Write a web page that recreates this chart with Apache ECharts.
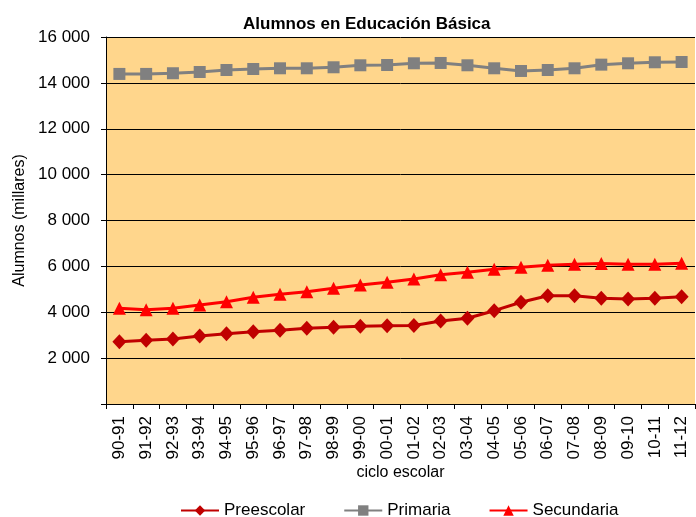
<!DOCTYPE html>
<html>
<head>
<meta charset="utf-8">
<script src="https://cdn.jsdelivr.net/npm/echarts@6/dist/echarts.min.js"></script>
<style>
  html, body { margin: 0; padding: 0; background: #fff; }
  #chart { width: 696px; height: 517px; }
</style>
</head>
<body>
<div id="chart"></div>
<script>
const ciclos = ["90-91", "91-92", "92-93", "93-94", "94-95", "95-96", "96-97", "97-98", "98-99", "99-00", "00-01",
  "01-02", "02-03", "03-04", "04-05", "05-06", "06-07", "07-08", "08-09", "09-10", "10-11", "11-12"];
const preescolar = [2716, 2777, 2834, 2965, 3065, 3152, 3213, 3300, 3344, 3395, 3410,
  3420, 3619, 3736, 4068, 4434, 4722, 4722, 4608, 4578, 4608, 4680];
const primaria = [14390, 14390, 14420, 14475, 14562, 14606, 14636, 14636, 14680, 14767, 14780,
  14854, 14868, 14767, 14636, 14519, 14562, 14636, 14795, 14854, 14898, 14911];
const secundaria = [4172, 4113, 4172, 4316, 4461, 4652, 4783, 4897, 5044, 5188, 5306,
  5450, 5638, 5740, 5873, 5960, 6047, 6091, 6120, 6091, 6091, 6134];

const chart = echarts.init(document.getElementById("chart"));
const font = "Liberation Sans, Arial, sans-serif";

const option = {
  animation: false,
  textStyle: { fontFamily: font },
  title: {
    text: "Alumnos en Educación Básica",
    left: 238,
    top: 11,
    textStyle: { fontFamily: font, fontSize: 17, fontWeight: "bold", color: "#000" }
  },
  grid: {
    left: 106,
    right: 1,
    top: 37,
    bottom: 113,
    show: true,
    backgroundColor: "#FFD68C",
    borderWidth: 0
  },
  legend: {
    top: 497,
    left: 175,
    itemGap: 38,
    itemWidth: 38,
    itemHeight: 13,
    textStyle: { fontFamily: font, fontSize: 17, color: "#000" },
    data: ["Preescolar", "Primaria", "Secundaria"]
  },
  xAxis: {
    type: "category",
    data: ciclos,
    boundaryGap: true,
    name: "ciclo escolar",
    nameLocation: "middle",
    nameGap: 61,
    nameMoveOverlap: false,
    nameTextStyle: { fontFamily: font, fontSize: 16, color: "#000", verticalAlign: "top" },
    axisLine: { lineStyle: { color: "#000", width: 1 } },
    axisTick: { show: true, length: 5, lineStyle: { color: "#000" } },
    axisLabel: { rotate: 90, fontSize: 17, color: "#000", interval: 0, margin: 12, fontFamily: font }
  },
  yAxis: {
    type: "value",
    min: 0,
    max: 16000,
    interval: 2000,
    name: "Alumnos (millares)",
    nameLocation: "middle",
    nameGap: 78,
    nameMoveOverlap: false,
    nameTextStyle: { fontFamily: font, fontSize: 16, color: "#000" },
    axisLine: { show: true, lineStyle: { color: "#000", width: 1 } },
    axisTick: { show: true, length: 5, lineStyle: { color: "#000" } },
    axisLabel: {
      fontSize: 17,
      color: "#000",
      margin: 16,
      fontFamily: font,
      formatter: function (v) {
        if (v === 0) return "";
        return String(v).replace(/\B(?=(\d{3})+(?!\d))/g, " ");
      }
    },
    splitLine: { lineStyle: { color: "#000", width: 1 } }
  },
  series: [
    {
      name: "Preescolar",
      type: "line",
      data: preescolar,
      symbol: "diamond",
      symbolSize: [14, 15],
      color: "#C00000",
      lineStyle: { color: "#C00000", width: 3 },
      itemStyle: { color: "#C00000" }
    },
    {
      name: "Primaria",
      type: "line",
      data: primaria,
      symbol: "rect",
      symbolSize: 12,
      color: "#808080",
      lineStyle: { color: "#808080", width: 3 },
      itemStyle: { color: "#808080" }
    },
    {
      name: "Secundaria",
      type: "line",
      data: secundaria,
      symbol: "triangle",
      symbolSize: 13,
      color: "#FF0000",
      lineStyle: { color: "#FF0000", width: 3 },
      itemStyle: { color: "#FF0000" }
    }
  ]
};

chart.setOption(option);
</script>
</body>
</html>
